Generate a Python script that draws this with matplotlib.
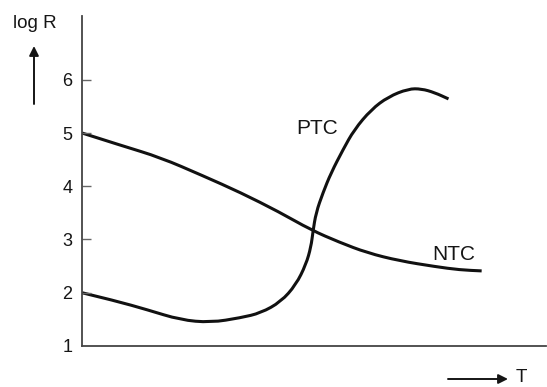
import matplotlib.pyplot as plt
from matplotlib.path import Path
from matplotlib.patches import PathPatch
import numpy as np

plt.rcParams['font.family'] = ['Liberation Sans', 'DejaVu Sans']

# temperature axis (arbitrary units) and log R values of the two thermistor curves
ntc_t = [0.0, 1.0, 1.95, 3.0, 3.95, 4.9, 5.7, 6.4, 7.1, 7.9, 8.8, 9.4, 9.95]
ntc_logr = [5.0, 4.76, 4.54, 4.2, 3.88, 3.52, 3.18, 2.95, 2.75, 2.6, 2.49, 2.43, 2.41]

ptc_t = [0.0, 0.825, 1.625, 2.45, 3.2, 3.95, 4.45, 4.95, 5.325, 5.575, 5.7, 5.75,
         5.825, 6.0, 6.2, 6.5, 6.775, 7.2, 7.625, 8.125, 8.45, 8.775, 9.125]
ptc_logr = [2.0, 1.85, 1.68, 1.49, 1.44, 1.53, 1.62, 1.83, 2.15, 2.53, 2.86, 3.15,
            3.5, 3.88, 4.25, 4.69, 5.06, 5.44, 5.68, 5.83, 5.83, 5.76, 5.64]

y_ticks = [1, 2, 3, 4, 5, 6]

W, H = 547, 387
INK = '#151515'


def fig_xy(px, py):
    # pixel position (from top-left) to figure fraction
    return px / W, 1 - py / H


def smooth_curve(x, y):
    # quadratic B-spline style path through the midpoints of the polyline
    p = np.column_stack([x, y])
    verts = [p[0]]
    codes = [Path.MOVETO]
    for i in range(1, len(p) - 1):
        verts += [p[i], (p[i] + p[i + 1]) / 2]
        codes += [Path.CURVE3, Path.CURVE3]
    verts.append(p[-1])
    codes.append(Path.LINETO)
    return Path(verts, codes)


fig = plt.figure(figsize=(W / 100, H / 100), dpi=100)
ax = fig.add_axes([0.150, 0.106, 0.848, 0.853])

for t, r in [(ntc_t, ntc_logr), (ptc_t, ptc_logr)]:
    ax.add_patch(PathPatch(smooth_curve(t, r), facecolor='none', edgecolor='#111111',
                           lw=2.2, capstyle='butt'))

ax.set_xlim(0, 11.55)
ax.set_ylim(1.0, 7.2)

for s in ['top', 'right']:
    ax.spines[s].set_visible(False)
for s in ['left', 'bottom']:
    ax.spines[s].set_color('#444444')
    ax.spines[s].set_linewidth(1.3)

ax.set_xticks([])
ax.set_yticks(y_ticks)
ax.set_yticklabels([str(v) for v in y_ticks])
ax.tick_params(axis='y', direction='in', length=6.5, width=1.0, color='#666666',
               pad=7, labelsize=13, labelcolor=INK)
ax.yaxis.get_major_ticks()[0].tick1line.set_visible(False)

fig.text(*fig_xy(317, 129), 'PTC', fontsize=15, color=INK, ha='center', va='center')
fig.text(*fig_xy(454, 254), 'NTC', fontsize=15, color=INK, ha='center', va='center')

# axis captions with arrows
fig.text(*fig_xy(35, 23), 'log R', fontsize=13.5, color=INK, ha='center', va='center')
arrow = dict(arrowstyle='-|>', color=INK, lw=1.4, mutation_scale=14, shrinkA=0, shrinkB=0)
fig.add_artist(plt.Annotation('', xy=fig_xy(34, 46), xytext=fig_xy(34, 104),
                              xycoords='figure fraction', arrowprops=arrow))
fig.add_artist(plt.Annotation('', xy=fig_xy(508, 379), xytext=fig_xy(448, 379),
                              xycoords='figure fraction', arrowprops=arrow))
fig.text(*fig_xy(521, 378), 'T', fontsize=13.5, color=INK, ha='center', va='center')

fig.savefig('out.png', dpi=100)
